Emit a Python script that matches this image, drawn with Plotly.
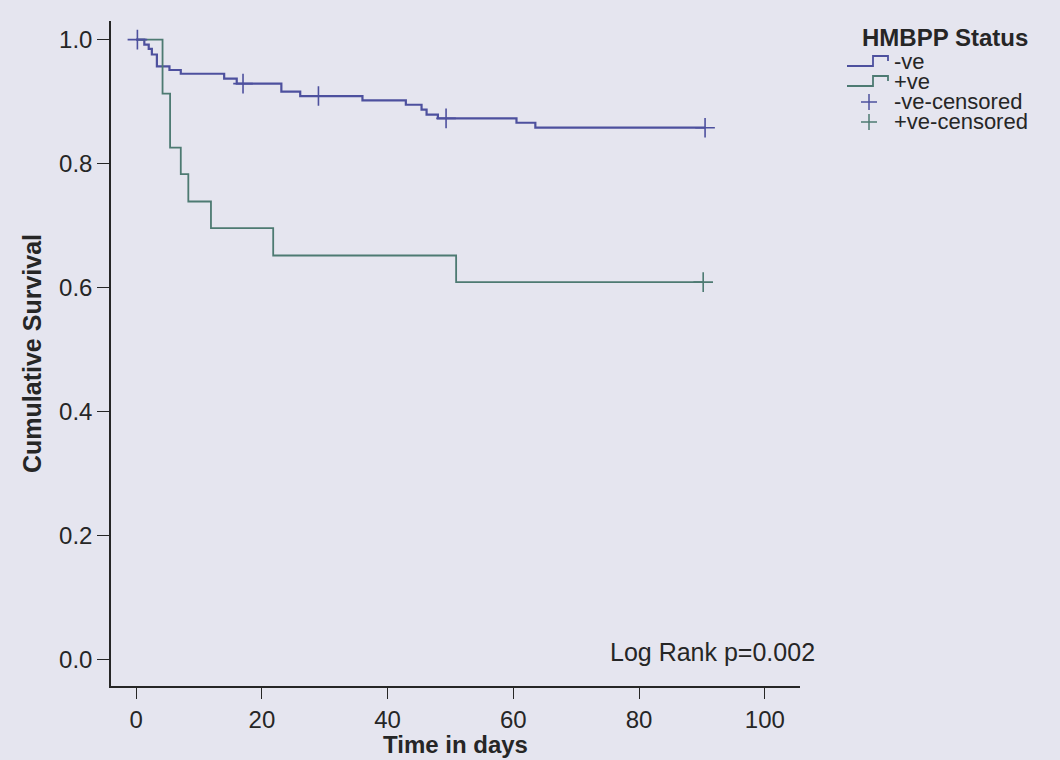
"""
Kaplan-Meier survival by HMBPP status.
"""

import plotly.graph_objects as go

# step curves (day, cumulative survival)
neg_days = [0, 1.3, 2.0, 2.5, 3.3, 5.3, 7.1, 14.0, 16.0, 23.1, 26.1, 36.0,
            42.9, 45.4, 46.2, 48.0, 60.5, 63.5, 90.5]
neg_surv = [1.0, 0.992, 0.985, 0.976, 0.957, 0.951, 0.945, 0.937, 0.929, 0.916,
            0.909, 0.902, 0.895, 0.887, 0.879, 0.873, 0.866, 0.858, 0.858]

pos_days = [0, 4.2, 5.4, 7.1, 8.3, 11.9, 21.8, 50.9, 90.2]
pos_surv = [1.0, 0.913, 0.826, 0.783, 0.739, 0.696, 0.652, 0.609, 0.609]

# censored observations
neg_cens_days = [0.2, 17.0, 29.0, 49.3, 90.5]
neg_cens_surv = [1.0, 0.929, 0.909, 0.873, 0.858]
pos_cens_days = [90.2]
pos_cens_surv = [0.609]

x_ticks = [0, 20, 40, 60, 80, 100]
y_ticks = [0.0, 0.2, 0.4, 0.6, 0.8, 1.0]
y_tick_labels = ["0.0", "0.2", "0.4", "0.6", "0.8", "1.0"]

legend_title = "HMBPP Status"
legend_labels = ["-ve", "+ve", "-ve-censored", "+ve-censored"]

blue = "#4d509e"
green = "#4d7a72"
bg = "#e5e5ef"
ink = "#262626"
font_family = "Liberation Sans, Arial, sans-serif"

W, H = 1060, 760
M_L, M_R, M_T, M_B = 111, 260, 21, 74


def px(x, y):
    # figure pixel -> paper coords (for the hand-drawn legend)
    return (x - M_L) / (W - M_L - M_R), (H - M_B - y) / (H - M_T - M_B)


def legend_shapes(fig):
    colors = [blue, green, blue, green]
    rows = [62, 82, 102, 122]
    fx, fy = px(945, 37)
    fig.add_annotation(x=fx, y=fy, xref="paper", yref="paper",
                       text=f"<b>{legend_title}</b>", showarrow=False,
                       xanchor="center", yanchor="middle",
                       font=dict(size=24, color=ink))
    for i, (label, col, row) in enumerate(zip(legend_labels, colors, rows)):
        tx, ty = px(892, row)
        fig.add_annotation(x=tx, y=ty, xref="paper", yref="paper", text=label,
                           showarrow=False, xanchor="left", yanchor="middle",
                           font=dict(size=22, color=ink))
        if i < 2:
            pts = [px(847, row + 4), px(873, row + 4), px(873, row - 6),
                   px(888, row - 6), px(888, row - 1)]
            path = "M " + " L ".join(f"{a},{b}" for a, b in pts)
            fig.add_shape(type="path", path=path, xref="paper", yref="paper",
                          line=dict(color=col, width=1.8))
        else:
            for (a, b), (c, d) in [((861, row), (877, row)), ((869, row - 8), (869, row + 8))]:
                x0, y0 = px(a, b)
                x1, y1 = px(c, d)
                fig.add_shape(type="line", x0=x0, y0=y0, x1=x1, y1=y1,
                              xref="paper", yref="paper",
                              line=dict(color=col, width=1.5))


def make_image():
    fig = go.Figure()
    fig.add_trace(go.Scatter(x=neg_days, y=neg_surv, mode="lines", name="-ve",
                             line=dict(color=blue, width=2.2, shape="hv")))
    fig.add_trace(go.Scatter(x=pos_days, y=pos_surv, mode="lines", name="+ve",
                             line=dict(color=green, width=1.8, shape="hv")))
    fig.add_trace(go.Scatter(x=neg_cens_days, y=neg_cens_surv, mode="markers",
                             name="-ve-censored",
                             marker=dict(symbol="cross-thin", size=14,
                                         line=dict(color=blue, width=1.6))))
    fig.add_trace(go.Scatter(x=pos_cens_days, y=pos_cens_surv, mode="markers",
                             name="+ve-censored",
                             marker=dict(symbol="cross-thin", size=14,
                                         line=dict(color=green, width=1.6))))

    fig.add_annotation(x=75, y=0.013, xref="x", yref="y", text="Log Rank p=0.002",
                       showarrow=False, xanchor="left", yanchor="middle",
                       font=dict(size=25, color=ink, family=font_family))

    # x title drawn as an annotation so it sits just under the tick labels
    _, ty = px(0, 745)
    fig.add_annotation(x=0.5, y=ty, xref="paper", yref="paper",
                       text="<b>Time in days</b>", showarrow=False,
                       xanchor="center", yanchor="middle",
                       font=dict(size=24, color=ink))

    fig.update_xaxes(
        range=[-4, 105.6], tickvals=x_ticks, showgrid=False, zeroline=False,
        showline=True, linecolor=ink, linewidth=1.5, automargin=False,
        ticks="outside", ticklen=11, tickcolor=ink, tickwidth=1.2,
        tickfont=dict(size=24, color=ink),
    )
    fig.update_yaxes(
        range=[-0.042, 1.03], tickvals=y_ticks, ticktext=y_tick_labels,
        showgrid=False, zeroline=False, automargin=False,
        showline=True, linecolor=ink, linewidth=1.5,
        ticks="outside", ticklen=12, tickcolor=ink, tickwidth=1.2,
        tickfont=dict(size=24, color=ink),
        title=dict(text="<b>Cumulative Survival</b>", standoff=10,
                   font=dict(size=25, color=ink)),
    )

    fig.update_layout(
        width=W, height=H,
        margin=dict(l=M_L, r=M_R, t=M_T, b=M_B),
        paper_bgcolor=bg, plot_bgcolor=bg,
        font=dict(family=font_family, color=ink),
        showlegend=False,
    )
    legend_shapes(fig)
    return fig


def main():
    fig = make_image()
    # drop the default 8px body margin so the figure fills the window
    fig.write_html(
        "out.html",
        config={"displayModeBar": False},
        post_script="document.body.style.margin='0';"
        "document.body.style.overflow='hidden';"
        f"document.body.style.background='{bg}';",
    )


if __name__ == "__main__":
    main()
